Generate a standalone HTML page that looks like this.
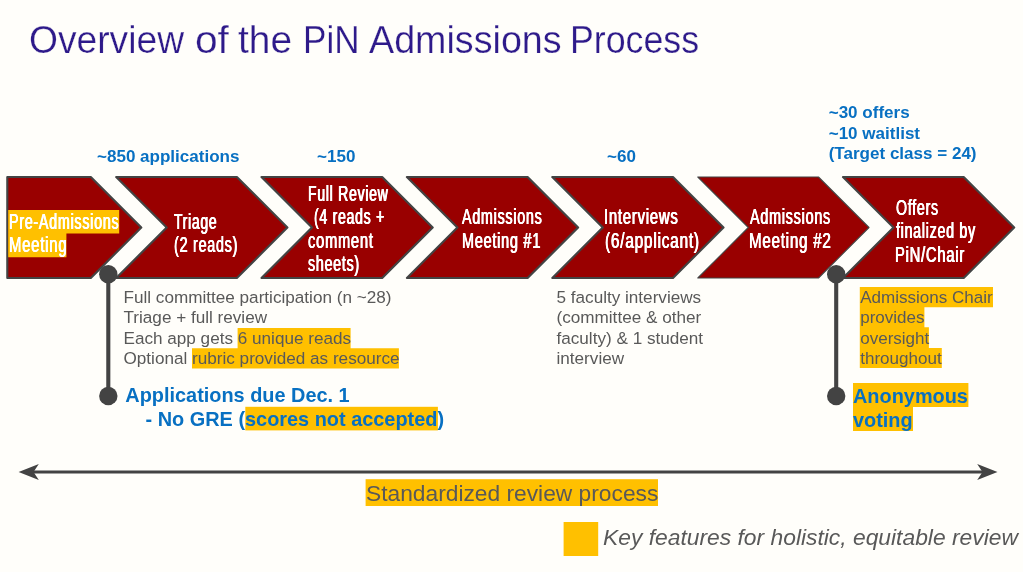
<!DOCTYPE html>
<html lang="en"><head><meta charset="utf-8"><title>Overview of the PiN Admissions Process</title>
<style>
html,body{margin:0;padding:0;background:#fffefa;}
body{width:1023px;height:572px;overflow:hidden;position:relative;font-family:"Liberation Sans",sans-serif;}
#stage{position:absolute;left:0;top:0;width:1023px;height:572px;overflow:hidden;will-change:transform;}
svg{position:absolute;left:0;top:0;display:block;}
text{font-family:"Liberation Sans",sans-serif;white-space:pre;}
.b{fill:#0870c2;font-weight:bold;font-size:17.05px;}
.b2{fill:#0870c2;font-weight:bold;font-size:19.9px;}
.g{fill:#595959;font-size:17.14px;}
.g2{fill:#595959;font-size:17.05px;}
.s{fill:#595959;font-size:22.78px;}
.k{fill:#595959;font-size:22.83px;font-style:italic;}
.h{fill:#ffc000;}
.sh{fill:#990000;stroke:#434343;stroke-width:2.13;stroke-linejoin:round;}
.x{position:absolute;display:block;margin:0;white-space:pre;transform-origin:0 0;}
.title,.steps,.steps li{margin:0;padding:0;list-style:none;font-weight:normal;font-size:0;line-height:0;}
.title .x{color:#2e1a8a;font-size:38.3px;line-height:50px;height:50px;font-weight:normal;-webkit-text-stroke:0.25px #fffefa;}
.c{color:#fff;font-size:22.9px;line-height:30px;height:30px;letter-spacing:1.2px;}
</style></head><body>
<div id="stage">
<h1 class="title"><span class="x" style="left:29.41px;top:15px;transform:scaleX(0.9713)">Overview</span> <span class="x" style="left:194.98px;top:15px;transform:scaleX(1.0613)">of</span> <span class="x" style="left:237.72px;top:15px;transform:scaleX(1.0156)">the</span> <span class="x" style="left:302.81px;top:15px;transform:scaleX(0.9157)">PiN</span> <span class="x" style="left:368.91px;top:15px;transform:scaleX(0.9838)">Admissions</span> <span class="x" style="left:570.08px;top:15px;transform:scaleX(0.9327)">Process</span></h1>
<svg width="1023" height="572" viewBox="0 0 1023 572" role="img" aria-label="Admissions process timeline">
<path class="sh" d="M7.3 177.0H90.8L141.3 227.5L90.8 278.0H7.3Z"/>
<path class="sh" d="M116.2 177.0H236.9L287.4 227.5L236.9 278.0H116.2L166.7 227.5Z"/>
<path class="sh" d="M261.5 177.0H382.2L432.7 227.5L382.2 278.0H261.5L312.0 227.5Z"/>
<path class="sh" d="M406.9 177.0H527.6L578.1 227.5L527.6 278.0H406.9L457.4 227.5Z"/>
<path class="sh" d="M552.3 177.0H673.0L723.5 227.5L673.0 278.0H552.3L602.8 227.5Z"/>
<path class="sh" style="stroke-width:1.07" d="M697.8 177.0H818.5L869.0 227.5L818.5 278.0H697.8L748.3 227.5Z"/>
<path class="sh" d="M843.0 177.0H963.7L1014.2 227.5L963.7 278.0H843.0L893.5 227.5Z"/>
<g fill="#434343" stroke="#434343">
<line x1="108.3" y1="274" x2="108.3" y2="397" stroke-width="4.1"/>
<circle cx="108.3" cy="274.2" r="9.2" stroke="none"/>
<circle cx="108.3" cy="396.0" r="9.2" stroke="none"/>
<line x1="836.2" y1="274" x2="836.2" y2="397" stroke-width="4.1"/>
<circle cx="836.2" cy="274.2" r="9.2" stroke="none"/>
<circle cx="836.2" cy="396.0" r="9.2" stroke="none"/>
<line x1="30" y1="472" x2="986" y2="472" stroke-width="3.1"/>
<path d="M18.6 472L38.8 464.1L33.5 472L38.8 479.9Z" stroke="none"/>
<path d="M997.5 472L977.2 464.1L982.5 472L977.2 479.9Z" stroke="none"/>
</g>
<path class="h" d="M8.2 210H119.2V233.6H66.4V257.2H8.2Z"/>
<text class="b" x="97" y="162">~850 applications</text>
<text class="b" x="317" y="162">~150</text>
<text class="b" x="607" y="162">~60</text>
<text class="b" x="828.7" y="118">~30 offers</text>
<text class="b" x="828.7" y="139">~10 waitlist</text>
<text class="b" x="828.7" y="159">(Target class = 24)</text>
<path class="h" d="M237.6 328H350.6V348.3H398.9V368.6H192V348.3H237.6Z"/>
<text class="g" x="123.5" y="303.0">Full committee participation (n ~28)</text>
<text class="g" x="123.5" y="323.4">Triage + full review</text>
<text class="g" x="123.5" y="343.9">Each app gets 6 unique reads</text>
<text class="g" x="123.5" y="364.4">Optional rubric provided as resource</text>
<text class="g" x="556.5" y="303.0">5 faculty interviews</text>
<text class="g" x="556.5" y="323.4">(committee &amp; other</text>
<text class="g" x="556.5" y="343.9">faculty) &amp; 1 student</text>
<text class="g" x="556.5" y="364.4">interview</text>
<path class="h" d="M859.8 287H993V307.2H924.4V327.3H928.9V347.9H941.8V368.1H859.8Z"/>
<text class="g2" x="860.2" y="303.0">Admissions Chair</text>
<text class="g2" x="860.2" y="323.4">provides</text>
<text class="g2" x="860.2" y="343.9">oversight</text>
<text class="g2" x="860.2" y="364.4">throughout</text>
<rect class="h" x="245.3" y="406.8" width="192.6" height="23.6"/>
<text class="b2" x="125.3" y="401.5">Applications due Dec. 1</text>
<text class="b2" x="145.6" y="425.5">- No GRE (scores not accepted)</text>
<path class="h" d="M853 383H968.4V407H913V431H853Z"/>
<text class="b2" x="853" y="403">Anonymous</text>
<text class="b2" x="853" y="427">voting</text>
<rect class="h" x="365.6" y="479.2" width="292.4" height="26.8"/>
<text class="s" x="366" y="500.5">Standardized review process</text>
<rect class="h" x="563.6" y="522.0" width="34.6" height="34.0"/>
<text class="k" x="603" y="545">Key features for holistic, equitable review</text>
</svg>
<ol class="steps">
<li><span class="x c" style="left:9.07px;top:206px;transform:scaleX(0.6233);text-shadow:0.58px 0 0 #fff,-0.58px 0 0 #fff">Pre-Admissions</span> <span class="x c" style="left:8.94px;top:229px;transform:scaleX(0.6497);text-shadow:0.55px 0 0 #fff,-0.55px 0 0 #fff">Meeting</span></li>
<li><span class="x c" style="left:173.52px;top:206px;transform:scaleX(0.6084);text-shadow:0.59px 0 0 #fff,-0.59px 0 0 #fff">Triage</span> <span class="x c" style="left:173.79px;top:229px;transform:scaleX(0.6267);text-shadow:0.57px 0 0 #fff,-0.57px 0 0 #fff">(2 reads)</span></li>
<li><span class="x c" style="left:307.53px;top:178px;transform:scaleX(0.6127);text-shadow:0.59px 0 0 #fff,-0.59px 0 0 #fff">Full Review</span> <span class="x c" style="left:313.72px;top:201px;transform:scaleX(0.6136);text-shadow:0.59px 0 0 #fff,-0.59px 0 0 #fff">(4 reads +</span> <span class="x c" style="left:308.09px;top:225px;transform:scaleX(0.6404);text-shadow:0.56px 0 0 #fff,-0.56px 0 0 #fff">comment</span> <span class="x c" style="left:308.37px;top:248px;transform:scaleX(0.6219);text-shadow:0.58px 0 0 #fff,-0.58px 0 0 #fff">sheets)</span></li>
<li><span class="x c" style="left:462.17px;top:201px;transform:scaleX(0.6242);text-shadow:0.58px 0 0 #fff,-0.58px 0 0 #fff">Admissions</span> <span class="x c" style="left:462.07px;top:225px;transform:scaleX(0.6312);text-shadow:0.57px 0 0 #fff,-0.57px 0 0 #fff">Meeting #1</span></li>
<li><span class="x c" style="left:603.81px;top:201px;transform:scaleX(0.6483);text-shadow:0.56px 0 0 #fff,-0.56px 0 0 #fff">Interviews</span> <span class="x c" style="left:604.76px;top:225px;transform:scaleX(0.6701);text-shadow:0.54px 0 0 #fff,-0.54px 0 0 #fff">(6/applicant)</span></li>
<li><span class="x c" style="left:749.59px;top:201px;transform:scaleX(0.6273);text-shadow:0.57px 0 0 #fff,-0.57px 0 0 #fff">Admissions</span> <span class="x c" style="left:749.23px;top:225px;transform:scaleX(0.6596);text-shadow:0.55px 0 0 #fff,-0.55px 0 0 #fff">Meeting #2</span></li>
<li><span class="x c" style="left:895.70px;top:192px;transform:scaleX(0.6200);text-shadow:0.58px 0 0 #fff,-0.58px 0 0 #fff">Offers</span> <span class="x c" style="left:896.30px;top:215px;transform:scaleX(0.6200);text-shadow:0.58px 0 0 #fff,-0.58px 0 0 #fff">finalized by</span> <span class="x c" style="left:895.37px;top:239px;transform:scaleX(0.6433);text-shadow:0.56px 0 0 #fff,-0.56px 0 0 #fff">PiN/Chair</span></li>
</ol>
</div>
</body></html>
